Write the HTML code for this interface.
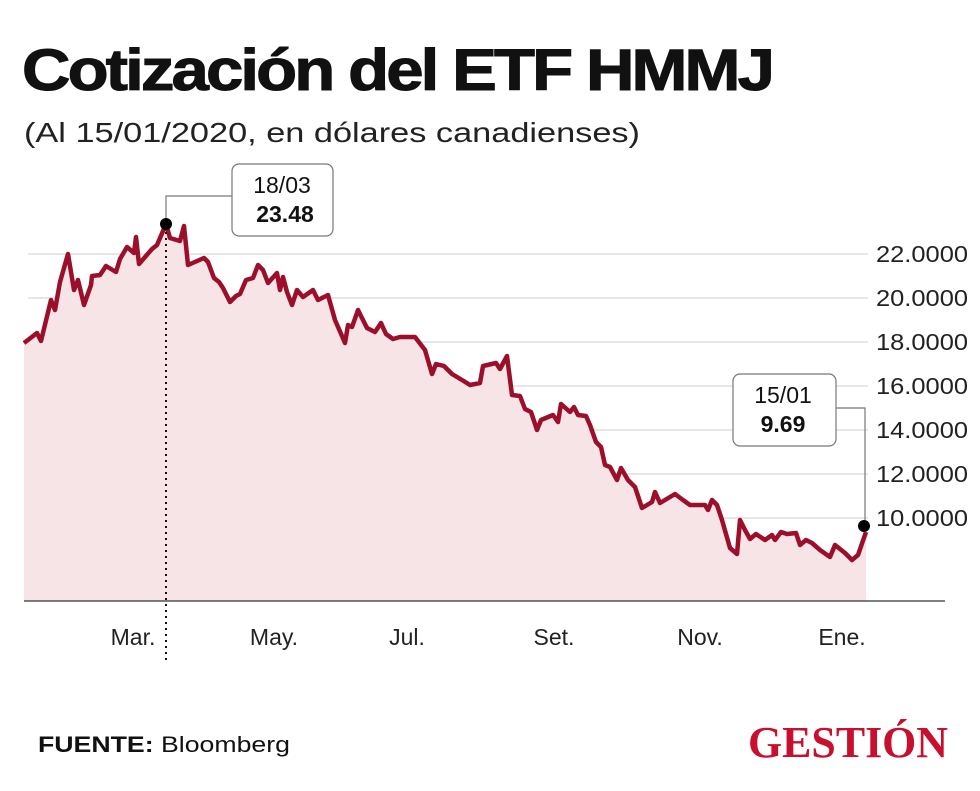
<!DOCTYPE html><html><head><meta charset="utf-8"><style>
body{margin:0;background:#fff;width:980px;height:786px;overflow:hidden;font-family:"Liberation Sans",sans-serif}
</style></head><body>
<svg width="980" height="786" viewBox="0 0 980 786" xmlns="http://www.w3.org/2000/svg">
<text x="22" y="90" font-family="Liberation Sans" font-weight="bold" font-size="58" letter-spacing="-2.5" textLength="750" lengthAdjust="spacingAndGlyphs" fill="#111" stroke="#111" stroke-width="1">Cotización del ETF HMMJ</text>
<text x="24" y="142" font-size="28" fill="#222" textLength="616" lengthAdjust="spacingAndGlyphs">(Al 15/01/2020, en dólares canadienses)</text>
<g stroke="#d8d8d8" stroke-width="1.2">
<line x1="28" y1="254" x2="868" y2="254"/><line x1="28" y1="298" x2="868" y2="298"/><line x1="28" y1="342" x2="868" y2="342"/><line x1="28" y1="386" x2="868" y2="386"/><line x1="28" y1="430" x2="868" y2="430"/><line x1="28" y1="474" x2="868" y2="474"/><line x1="28" y1="518" x2="868" y2="518"/>
</g>
<g font-size="23" fill="#222">
<text x="876" y="262" textLength="92" lengthAdjust="spacingAndGlyphs">22.0000</text><text x="876" y="306" textLength="92" lengthAdjust="spacingAndGlyphs">20.0000</text><text x="876" y="350" textLength="92" lengthAdjust="spacingAndGlyphs">18.0000</text><text x="876" y="394" textLength="92" lengthAdjust="spacingAndGlyphs">16.0000</text><text x="876" y="438" textLength="92" lengthAdjust="spacingAndGlyphs">14.0000</text><text x="876" y="482" textLength="92" lengthAdjust="spacingAndGlyphs">12.0000</text><text x="876" y="526" textLength="92" lengthAdjust="spacingAndGlyphs">10.0000</text>
</g>
<polygon fill="#f7e4e6" points="24,601 24,343 37,333 41,341 51,300 55,310 60,282 68,254 74,290 78,280 84,305 91,285 92,276 100,275 106,266 116,272 120,259 127,247 134,253 136,237 139,264 152,249 157,245 166,224 170,238 180,241 184,226 188,265 204,258 208,262 214,278 219,282 223,288 230,302 236,296 240,294 246,280 253,278 258,265 263,270 268,283 277,273 280,290 283,277 287,292 292,305 297,290 303,297 313,290 318,300 328,295 335,320 345,343 348,325 352,327 358,310 367,328 375,332 381,323 386,334 393,339 400,337 415,337 425,350 432,374 436,364 444,366 452,374 462,380 470,385 480,383 483,366 496,363 500,369 507,356 512,395 520,396 525,409 531,412 537,430 541,420 553,415 558,422 561,404 570,412 574,407 578,415 586,416 590,425 596,442 601,447 605,465 610,467 617,480 621,468 628,480 635,487 642,508 652,502 655,492 660,503 675,494 683,500 690,505 705,505 708,510 712,500 717,505 722,520 730,548 737,554 740,520 745,530 750,539 756,534 765,540 772,535 775,540 781,532 787,534 796,533 800,545 806,540 812,543 820,550 830,557 835,545 845,553 852,560 858,555 866,532 866,601"/>
<line x1="24" y1="601" x2="945" y2="601" stroke="#333" stroke-width="1.2"/>
<polyline fill="none" stroke="#9c0f2a" stroke-width="4.5" stroke-linejoin="round" points="24,343 37,333 41,341 51,300 55,310 60,282 68,254 74,290 78,280 84,305 91,285 92,276 100,275 106,266 116,272 120,259 127,247 134,253 136,237 139,264 152,249 157,245 166,224 170,238 180,241 184,226 188,265 204,258 208,262 214,278 219,282 223,288 230,302 236,296 240,294 246,280 253,278 258,265 263,270 268,283 277,273 280,290 283,277 287,292 292,305 297,290 303,297 313,290 318,300 328,295 335,320 345,343 348,325 352,327 358,310 367,328 375,332 381,323 386,334 393,339 400,337 415,337 425,350 432,374 436,364 444,366 452,374 462,380 470,385 480,383 483,366 496,363 500,369 507,356 512,395 520,396 525,409 531,412 537,430 541,420 553,415 558,422 561,404 570,412 574,407 578,415 586,416 590,425 596,442 601,447 605,465 610,467 617,480 621,468 628,480 635,487 642,508 652,502 655,492 660,503 675,494 683,500 690,505 705,505 708,510 712,500 717,505 722,520 730,548 737,554 740,520 745,530 750,539 756,534 765,540 772,535 775,540 781,532 787,534 796,533 800,545 806,540 812,543 820,550 830,557 835,545 845,553 852,560 858,555 866,532"/>
<line x1="166" y1="226" x2="166" y2="660" stroke="#111" stroke-width="2" stroke-dasharray="2,4"/>
<polyline fill="none" stroke="#777" stroke-width="1.2" points="166,224 166,196 232,196"/>
<rect x="232" y="164" width="101" height="72" rx="7" fill="#fff" stroke="#777" stroke-width="1.2"/>
<text x="282" y="193" font-size="23" text-anchor="middle" fill="#111">18/03</text>
<text x="285" y="222" font-size="23" font-weight="bold" text-anchor="middle" fill="#111">23.48</text>
<circle cx="166" cy="224" r="6" fill="#000"/>
<polyline fill="none" stroke="#777" stroke-width="1.2" points="836,408 865,408 865,526"/>
<rect x="733" y="374" width="103" height="72" rx="7" fill="#fff" stroke="#777" stroke-width="1.2"/>
<text x="783" y="403" font-size="23" text-anchor="middle" fill="#111">15/01</text>
<text x="783" y="432" font-size="23" font-weight="bold" text-anchor="middle" fill="#111">9.69</text>
<circle cx="864" cy="526" r="6" fill="#000"/>
<g font-size="23" fill="#222" text-anchor="middle">
<text x="133" y="645">Mar.</text><text x="274" y="645">May.</text><text x="407" y="645">Jul.</text><text x="554" y="645">Set.</text><text x="700" y="645">Nov.</text><text x="842" y="645">Ene.</text>
</g>
<text x="38" y="752" font-size="22" fill="#111" textLength="252" lengthAdjust="spacingAndGlyphs"><tspan font-weight="bold">FUENTE:</tspan> Bloomberg</text>
<text x="748" y="757" font-family="Liberation Serif" font-weight="bold" font-size="44" fill="#c8102e" textLength="200" lengthAdjust="spacingAndGlyphs">GESTIÓN</text>
</svg>
</body></html>
